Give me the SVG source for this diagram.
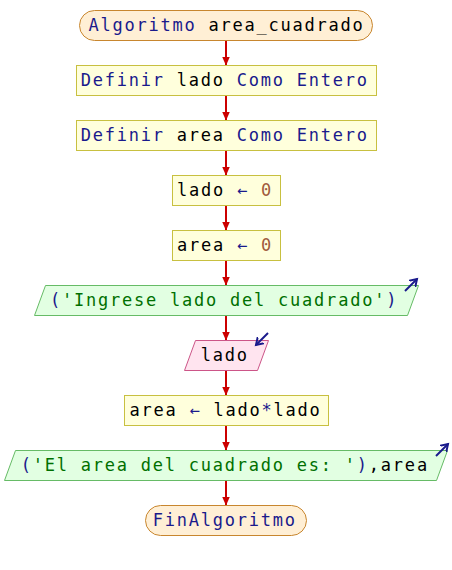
<svg xmlns="http://www.w3.org/2000/svg" width="452" height="570" viewBox="0 0 452 570">
<style>
text{font-family:"DejaVu Sans Mono","Liberation Mono",monospace;font-size:17px;letter-spacing:1.77px;fill:#000}
.kw{fill:#1a1a8c}
.str{fill:#007000}
.num{fill:#a05a3c}
.op{fill:#1a1a8c}
.term{fill:#ffefd5;stroke:#c8862e;stroke-width:1}
.proc{fill:#ffffdc;stroke:#c8c040;stroke-width:1}
.out{fill:#e2ffe2;stroke:#66bb66;stroke-width:1}
.in{fill:#ffe4ef;stroke:#cc5588;stroke-width:1}
.con{stroke:#cc0000;stroke-width:2;fill:none}
.ico{stroke:#1a1a8c;stroke-width:2;fill:none}
</style>
<defs>
<marker id="ah" markerUnits="userSpaceOnUse" markerWidth="10" markerHeight="8" refX="9" refY="4" orient="auto">
<path d="M0,0 L9,4 L0,8 Z" fill="#cc0000"/>
</marker>
<marker id="ih" markerUnits="userSpaceOnUse" markerWidth="10" markerHeight="10" refX="7" refY="5" orient="auto">
<path d="M0,0.5 L7,5 L0,9.5" fill="none" stroke="#1a1a8c" stroke-width="2"/>
</marker>
</defs>
<g id="connectors">
<line class="con" x1="226" y1="40.5" x2="226" y2="65.5" marker-end="url(#ah)"/>
<line class="con" x1="226" y1="95.5" x2="226" y2="120.5" marker-end="url(#ah)"/>
<line class="con" x1="226" y1="150.5" x2="226" y2="175.5" marker-end="url(#ah)"/>
<line class="con" x1="226" y1="205.5" x2="226" y2="230.5" marker-end="url(#ah)"/>
<line class="con" x1="226" y1="260.5" x2="226" y2="285.5" marker-end="url(#ah)"/>
<line class="con" x1="226" y1="315.5" x2="226" y2="340.5" marker-end="url(#ah)"/>
<line class="con" x1="226" y1="370.5" x2="226" y2="395.5" marker-end="url(#ah)"/>
<line class="con" x1="226" y1="425.5" x2="226" y2="450.5" marker-end="url(#ah)"/>
<line class="con" x1="226" y1="480.5" x2="226" y2="505.5" marker-end="url(#ah)"/>
</g>
<g id="start">
<rect class="term" x="79.5" y="10.5" width="293" height="30" rx="15"/>
<text x="88.5" y="31.3"><tspan class="kw">Algoritmo</tspan> area_cuadrado</text>
</g>
<g id="def_lado">
<rect class="proc" x="76.5" y="65.5" width="300" height="30"/>
<text x="80.7" y="86.3"><tspan class="kw">Definir</tspan> lado <tspan class="kw">Como Entero</tspan></text>
</g>
<g id="def_area">
<rect class="proc" x="76.5" y="120.5" width="300" height="30"/>
<text x="80.7" y="141.3"><tspan class="kw">Definir</tspan> area <tspan class="kw">Como Entero</tspan></text>
</g>
<g id="asig_lado">
<rect class="proc" x="172.5" y="175.5" width="108" height="30"/>
<text x="177" y="196.3">lado <tspan class="op">←</tspan> <tspan class="num">0</tspan></text>
</g>
<g id="asig_area">
<rect class="proc" x="172.5" y="230.5" width="108" height="30"/>
<text x="177" y="251.3">area <tspan class="op">←</tspan> <tspan class="num">0</tspan></text>
</g>
<g id="escribir1">
<polygon class="out" points="45.5,285.5 418.5,285.5 407.5,315.5 34.5,315.5"/>
<text x="50" y="306.3"><tspan class="op">(</tspan><tspan class="str">'Ingrese lado del cuadrado'</tspan><tspan class="op">)</tspan></text>
<line class="ico" x1="405" y1="291" x2="417" y2="279" marker-end="url(#ih)"/>
</g>
<g id="leer">
<polygon class="in" points="195.5,340.5 268.5,340.5 257.5,370.5 184.5,370.5"/>
<text x="200.8" y="361.3">lado</text>
<line class="ico" x1="268" y1="333" x2="256" y2="345" marker-end="url(#ih)"/>
</g>
<g id="calc">
<rect class="proc" x="124.5" y="395.5" width="204" height="30"/>
<text x="129.5" y="416.3">area <tspan class="op">←</tspan> lado<tspan class="op">*</tspan>lado</text>
</g>
<g id="escribir2">
<polygon class="out" points="15.5,450.5 447.5,450.5 436.5,480.5 4.5,480.5"/>
<text x="20.7" y="471.3"><tspan class="op">(</tspan><tspan class="str">'El area del cuadrado es: '</tspan><tspan class="op">)</tspan>,area</text>
<line class="ico" x1="436" y1="456" x2="448" y2="444" marker-end="url(#ih)"/>
</g>
<g id="end">
<rect class="term" x="145.5" y="505.5" width="161" height="30" rx="15"/>
<text x="152.7" y="526.3" class="kw">FinAlgoritmo</text>
</g>
</svg>
